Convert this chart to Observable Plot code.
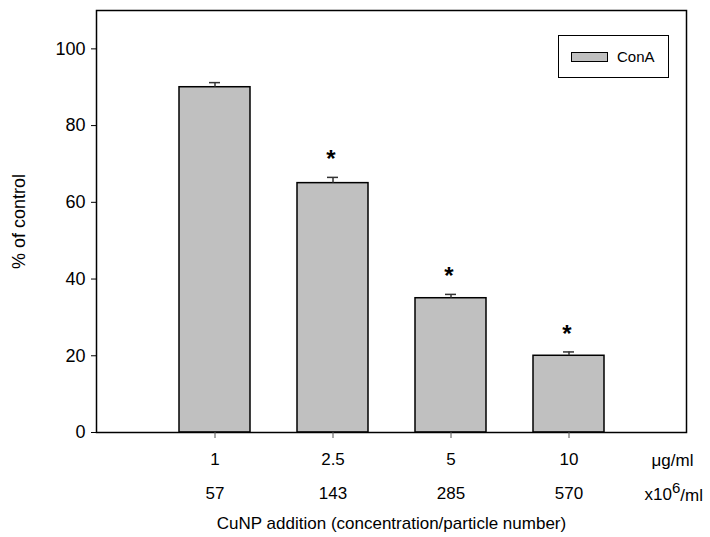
<!DOCTYPE html>
<html><head><meta charset="utf-8">
<script src="https://cdn.jsdelivr.net/npm/d3@7"></script>
<script src="https://cdn.jsdelivr.net/npm/@observablehq/plot@0.6"></script>
<style>
body{margin:0;background:#fff;font-family:"Liberation Sans",Arial,sans-serif;}
#wrap{position:relative;width:710px;height:537px;}
#legend{position:absolute;left:558px;top:35px;width:111px;height:43px;border:1.2px solid #000;box-sizing:border-box;font-size:15px;background:#fff;}
#legend .sw{position:absolute;left:12px;top:16px;width:37px;height:10px;background:#c0c0c0;border:1px solid #000;box-sizing:border-box;}
#legend .lb{position:absolute;left:58px;top:12px;line-height:17px;}
</style></head><body><div id="wrap"></div>
<script>
const concentrations = ["1","2.5","5","10"];
const particleNumbers = ["57","143","285","570"];
const values = [90, 65, 35, 20];
const errors = [1.2, 1.5, 1.0, 1.0];
const significant = [false, true, true, true];
const seriesName = "ConA";
const yTicks = [0, 20, 40, 60, 80, 100];
const unitTop = "μg/ml";
const unitBottom = "x10^6/ml";
const xTitle = "CuNP addition (concentration/particle number)";
const yTitle = "% of control";

const data = concentrations.map((c, i) => ({c, n: particleNumbers[i], v: values[i], e: errors[i], sig: significant[i]}));

const FS = 17;
const chart = Plot.plot({
  width: 710, height: 537,
  marginLeft: 96, marginRight: 24, marginTop: 10, marginBottom: 105,
  style: {fontFamily: "'Liberation Sans', Arial, sans-serif", fontSize: FS + "px", color: "#000", background: "#fff"},
  x: {type: "band", domain: concentrations, paddingInner: 0.4, paddingOuter: 0.7},
  y: {domain: [0, 110]},
  marks: [
    Plot.barY(data, {x: "c", y: "v", fill: "#c0c0c0", stroke: "#000", strokeWidth: 1.5}),
    Plot.ruleX(data, {x: "c", y1: "v", y2: d => d.v + d.e, stroke: "#333", strokeWidth: 1.5}),
    Plot.tickY(data, {x: "c", y: d => d.v + d.e, stroke: "#333", strokeWidth: 1.5, insetLeft: 30, insetRight: 30}),
    Plot.text(data.filter(d => d.sig), {x: "c", y: d => d.v + d.e, text: () => "*", dy: -10, dx: -2, fontSize: 24, fontWeight: "bold", lineAnchor: "bottom"}),
    Plot.frame({stroke: "#000", strokeWidth: 1.5}),
    Plot.axisY({ticks: yTicks, tickSize: 5, tickPadding: 6, fontSize: 18, label: yTitle, labelAnchor: "center", labelArrow: "none", labelOffset: 84}),
    Plot.axisX({tickSize: 6, stroke: "#555", tickPadding: 14, fontSize: FS, label: null, fill: "#000"}),
    Plot.axisX({tickSize: 0, tickPadding: 54, fontSize: FS, label: null, tickFormat: d => particleNumbers[concentrations.indexOf(d)]}),
    Plot.text([unitTop], {frameAnchor: "bottom-right", text: d => d, textAnchor: "start", dx: -35, dy: 28, fontSize: FS, lineAnchor: "middle"}),
    Plot.text([unitBottom], {frameAnchor: "bottom-right", text: d => d, textAnchor: "start", dx: -42, dy: 62, fontSize: FS, lineAnchor: "middle", className: "unit2"}),
    Plot.text([xTitle], {frameAnchor: "bottom", text: d => d, dy: 91, fontSize: FS, lineAnchor: "middle"})
  ]
});
document.getElementById("wrap").appendChild(chart);

// superscript in unit label
d3.select(chart).selectAll(".unit2 text").each(function() {
  const s = this.textContent.split("^");
  const rest = s[1];
  const exp = rest.slice(0, 1), tail = rest.slice(1);
  const t = d3.select(this);
  t.text(s[0]);
  t.append("tspan").attr("dy", "-0.45em").attr("font-size", 15).text(exp);
  t.append("tspan").attr("dy", "0.45em").text(tail);
});

const lg = document.createElement("div");
lg.id = "legend";
lg.innerHTML = `<div class="sw"></div><div class="lb">${seriesName}</div>`;
document.getElementById("wrap").appendChild(lg);
</script>
</body></html>
